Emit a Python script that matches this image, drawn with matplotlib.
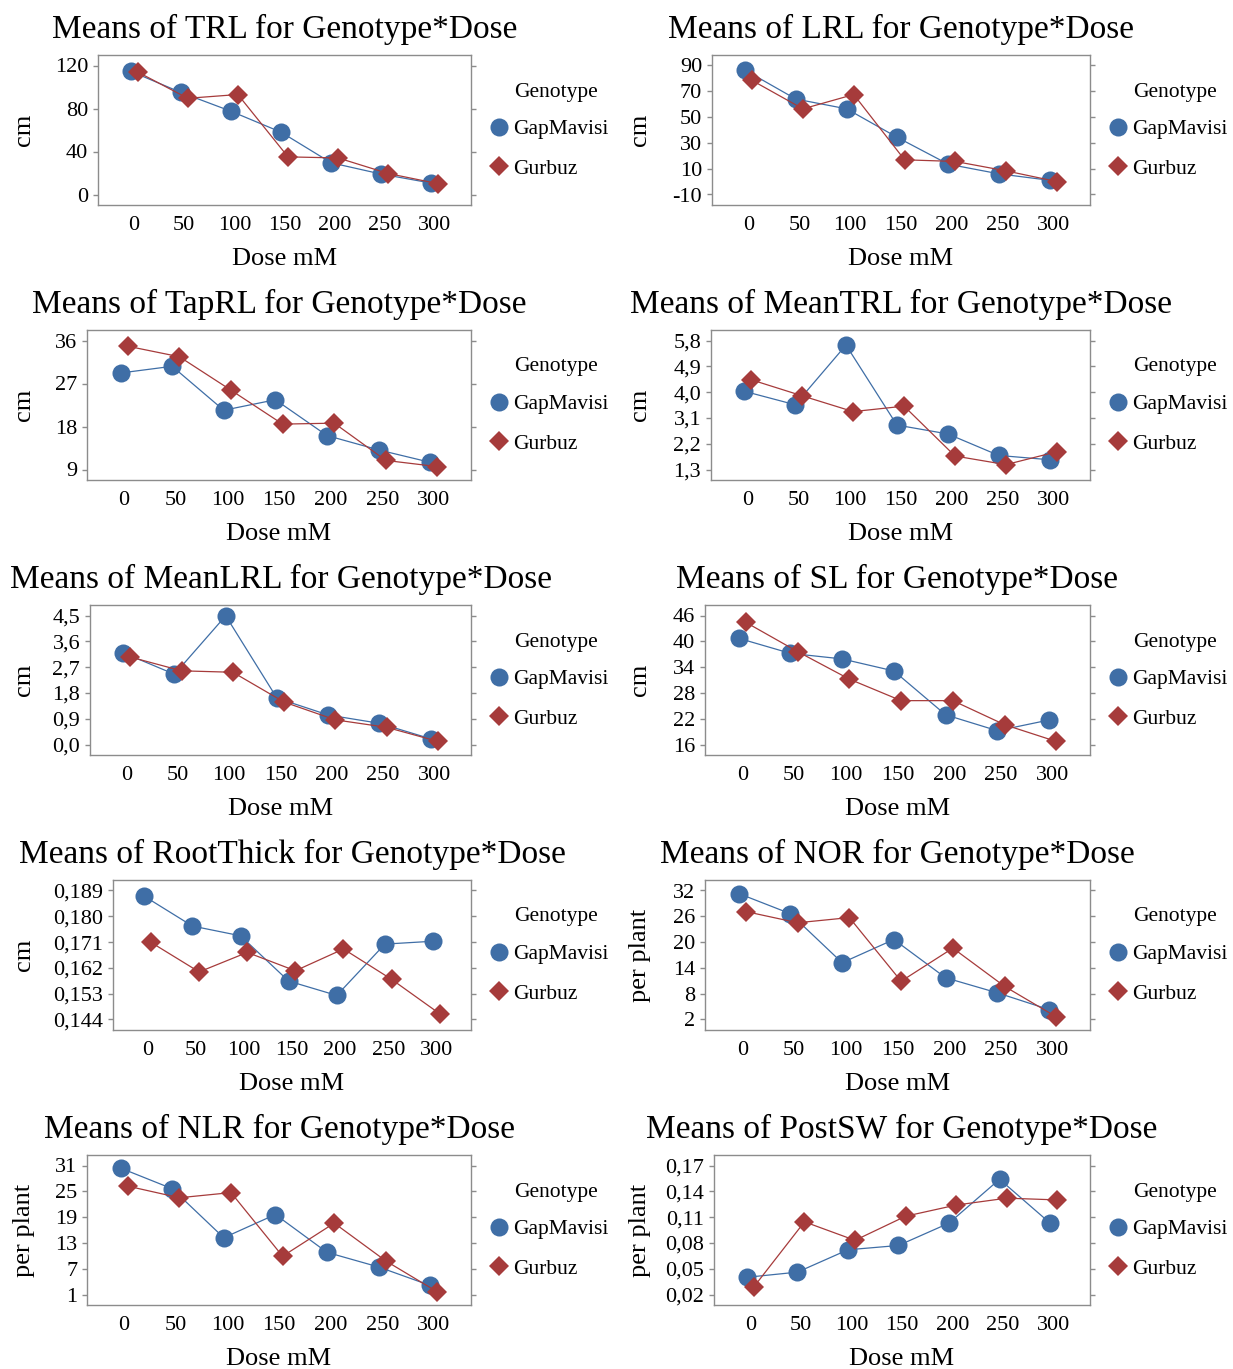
import matplotlib
matplotlib.use('Agg')
import matplotlib.pyplot as plt
import matplotlib.transforms as mtransforms
from matplotlib.lines import Line2D

plt.rcParams['font.family'] = ['Liberation Serif', 'DejaVu Serif']

W, H = 1233, 1369
BLUE = '#3F6EA6'
RED = '#A63B3B'
FRAME = '#8C8C8C'

doses = ['0', '50', '100', '150', '200', '250', '300']
genotypes = ['GapMavisi', 'Gurbuz']

# means (GapMavisi, Gurbuz)
trl_gap = [114.7, 95.0, 77.5, 58.0, 29.5, 19.0, 10.6]
trl_gur = [114.0, 89.5, 93.0, 35.0, 34.0, 19.5, 10.0]
lrl_gap = [86.4, 64.0, 56.4, 34.2, 13.5, 6.0, 1.0]
lrl_gur = [78.4, 56.4, 67.5, 16.9, 15.6, 8.3, 0.0]
taprl_gap = [29.2, 30.6, 21.4, 23.6, 16.1, 13.1, 10.5]
taprl_gur = [34.8, 32.6, 25.6, 18.5, 18.7, 10.9, 9.6]
meantrl_gap = [4.03, 3.56, 5.64, 2.85, 2.54, 1.79, 1.64]
meantrl_gur = [4.43, 3.87, 3.32, 3.51, 1.77, 1.47, 1.92]
meanlrl_gap = [3.20, 2.45, 4.49, 1.62, 1.03, 0.74, 0.20]
meanlrl_gur = [3.05, 2.57, 2.52, 1.48, 0.86, 0.60, 0.11]
sl_gap = [40.7, 37.2, 35.9, 33.1, 22.9, 19.2, 21.7]
sl_gur = [44.4, 37.6, 31.2, 26.2, 26.2, 20.6, 16.7]
thick_gap = [0.1870, 0.1766, 0.1732, 0.1574, 0.1524, 0.1703, 0.1713]
thick_gur = [0.1709, 0.1606, 0.1674, 0.1610, 0.1686, 0.1580, 0.1460]
nor_gap = [31.3, 26.6, 15.2, 20.6, 11.7, 8.2, 4.3]
nor_gur = [27.1, 24.5, 25.7, 10.9, 18.6, 9.7, 2.6]
nlr_gap = [30.4, 25.6, 14.2, 19.6, 10.8, 7.4, 3.1]
nlr_gur = [26.2, 23.5, 24.7, 9.9, 17.6, 8.8, 1.6]
postsw_gap = [0.040, 0.046, 0.072, 0.077, 0.103, 0.154, 0.103]
postsw_gur = [0.029, 0.1045, 0.083, 0.111, 0.124, 0.132, 0.130]

trl_ticks = [0, 40, 80, 120]
lrl_ticks = [-10, 10, 30, 50, 70, 90]
taprl_ticks = [9, 18, 27, 36]
meantrl_ticks = [1.3, 2.2, 3.1, 4.0, 4.9, 5.8]
meanlrl_ticks = [0.0, 0.9, 1.8, 2.7, 3.6, 4.5]
sl_ticks = [16, 22, 28, 34, 40, 46]
thick_ticks = [0.144, 0.153, 0.162, 0.171, 0.180, 0.189]
nor_ticks = [2, 8, 14, 20, 26, 32]
nlr_ticks = [1, 7, 13, 19, 25, 31]
postsw_ticks = [0.02, 0.05, 0.08, 0.11, 0.14, 0.17]

trl_labels = ['0', '40', '80', '120']
lrl_labels = ['-10', '10', '30', '50', '70', '90']
taprl_labels = ['9', '18', '27', '36']
meantrl_labels = ['1,3', '2,2', '3,1', '4,0', '4,9', '5,8']
meanlrl_labels = ['0,0', '0,9', '1,8', '2,7', '3,6', '4,5']
sl_labels = ['16', '22', '28', '34', '40', '46']
thick_labels = ['0,144', '0,153', '0,162', '0,171', '0,180', '0,189']
nor_labels = ['2', '8', '14', '20', '26', '32']
nlr_labels = ['1', '7', '13', '19', '25', '31']
postsw_labels = ['0,02', '0,05', '0,08', '0,11', '0,14', '0,17']

panels = [
    ('TRL', 'cm', trl_gap, trl_gur, trl_ticks, trl_labels),
    ('LRL', 'cm', lrl_gap, lrl_gur, lrl_ticks, lrl_labels),
    ('TapRL', 'cm', taprl_gap, taprl_gur, taprl_ticks, taprl_labels),
    ('MeanTRL', 'cm', meantrl_gap, meantrl_gur, meantrl_ticks, meantrl_labels),
    ('MeanLRL', 'cm', meanlrl_gap, meanlrl_gur, meanlrl_ticks, meanlrl_labels),
    ('SL', 'cm', sl_gap, sl_gur, sl_ticks, sl_labels),
    ('RootThick', 'cm', thick_gap, thick_gur, thick_ticks, thick_labels),
    ('NOR', 'per plant', nor_gap, nor_gur, nor_ticks, nor_labels),
    ('NLR', 'per plant', nlr_gap, nlr_gur, nlr_ticks, nlr_labels),
    ('PostSW', 'per plant', postsw_gap, postsw_gur, postsw_ticks, postsw_labels),
]

# layout in pixels
box_lefts = [98, 712, 87, 711, 90, 705, 113, 705, 87, 714]
box_rights = [471, 1090]
box_tops = [55, 330, 605, 880, 1155]
BOX_H = 150
ylabel_x = [35, 651]
legend_marker_x = [488, 1107]
legend_text_x = [514, 1133]

fig = plt.figure(figsize=(W / 100, H / 100), dpi=100, facecolor='white')

x = list(range(len(doses)))
off = 0.07

handles = [
    Line2D([], [], linestyle='none', marker='o', ms=13, markeredgewidth=0, color=BLUE),
    Line2D([], [], linestyle='none', marker='D', ms=10.5, markeredgewidth=0, color=RED),
]

for i, (name, unit, gap, gur, ticks, tlabels) in enumerate(panels):
    col, row = i % 2, i // 2
    left = box_lefts[i]
    right = box_rights[col]
    top = box_tops[row]
    ax = fig.add_axes([left / W, 1 - (top + BOX_H) / H, (right - left) / W, BOX_H / H])

    ax.plot([v - off for v in x], gap, '-', color=BLUE, lw=0.9, marker='o', ms=13,
            markeredgewidth=0, zorder=3)
    ax.plot([v + off for v in x], gur, '-', color=RED, lw=0.9, marker='D', ms=10.5,
            markeredgewidth=0, zorder=4)

    span = ticks[-1] - ticks[0]
    pad = span * 10.5 / 129
    ax.set_ylim(ticks[0] - pad, ticks[-1] + pad)
    ax.set_xlim(-0.72, len(doses) - 1 + 0.72)
    ax.set_yticks(ticks)
    ax.set_yticklabels(tlabels)
    ax.set_xticks(x)
    ax.set_xticklabels(doses)
    ax.tick_params(axis='x', length=0, labelsize=16, pad=8)
    ax.tick_params(axis='y', left=True, right=True, direction='out', length=3.6,
                   width=1, color=FRAME, labelsize=16, pad=3.5)
    for s in ax.spines.values():
        s.set_color(FRAME)
        s.set_linewidth(1)

    ax.set_title(f'Means of {name} for Genotype*Dose', fontsize=24, pad=12)
    ax.set_xlabel('Dose mM', fontsize=19, labelpad=9)
    ax.set_ylabel(unit, fontsize=19)
    trans = mtransforms.blended_transform_factory(fig.transFigure, ax.transAxes)
    ax.yaxis.set_label_coords(ylabel_x[col] / W, 0.5, transform=trans)

    fig.text(legend_text_x[col] / W, 1 - (top + 37) / H, 'Genotype',
             fontsize=15.5, ha='left', va='center')
    ax.legend(handles, genotypes, loc='center left', frameon=False,
              bbox_to_anchor=(legend_marker_x[col] / W, 1 - (top + 94) / H),
              bbox_transform=fig.transFigure, fontsize=15.5, borderpad=0,
              borderaxespad=0, handlelength=1.0, handletextpad=0.15,
              labelspacing=0.9)

fig.savefig('out.png', dpi=100, facecolor='white')
